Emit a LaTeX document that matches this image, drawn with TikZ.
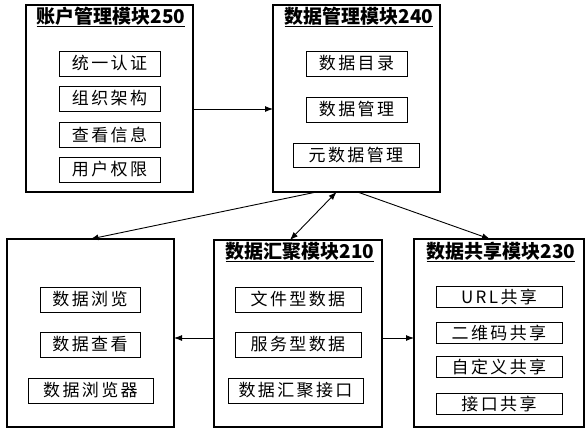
\documentclass[tikz,border=0pt]{standalone}
\usepackage{fontspec}
\usetikzlibrary{arrows.meta}
\setmainfont{Noto Sans CJK SC}
\newfontfamily\subfont[LetterSpace=14]{Noto Sans CJK SC}
\begin{document}
\begin{tikzpicture}[x=1pt, y=-1pt, line join=miter, >={Latex[length=8pt, width=6pt]},
        every node/.style={outer sep=0pt, inner sep=0pt},
        mod/.style={draw, line width=1.1pt, anchor=north west},
        title/.style={font=\fontsize{19}{19}\selectfont\bfseries},
        item/.style={draw, line width=1pt, minimum height=25pt, font=\fontsize{17}{17}\subfont},
        link/.style={line width=0.9pt}]
        \useasboundingbox (0, 0) rectangle (587, 431);
        % modules
        \node[mod, minimum width=167pt, minimum height=187pt] (acct) at (26, 5) {};
        \node[mod, minimum width=167pt, minimum height=187pt] (mgmt) at (273, 5) {};
        \node[mod, minimum width=167pt, minimum height=188pt] (view) at (7, 239) {};
        \node[mod, minimum width=168pt, minimum height=187pt] (agg) at (214, 240) {};
        \node[mod, minimum width=170pt, minimum height=188pt] (share) at (414, 239) {};
        % titles
        \node[title] (acctT) at (111, 17) {\underline{账户管理模块250}};
        \node[title] (mgmtT) at (359, 17) {\underline{数据管理模块240}};
        \node[title] (aggT) at (300, 252) {\underline{数据汇聚模块210}};
        \node[title] (shareT) at (501, 252) {\underline{数据共享模块230}};
        % account
        \node[item, minimum width=101pt] (auth) at (109.5, 63.5) {统一认证};
        \node[item, minimum width=101pt] (org) at (109.5, 98.5) {组织架构};
        \node[item, minimum width=101pt] (info) at (109.5, 134.5) {查看信息};
        \node[item, minimum width=101pt] (perm) at (109.5, 169.5) {用户权限};
        % data management
        \node[item, minimum width=101pt] (cat) at (356.5, 63.5) {数据目录};
        \node[item, minimum width=101pt] (dm) at (356.5, 109.5) {数据管理};
        \node[item, minimum width=126pt, minimum height=24pt] (meta) at (356, 155) {元数据管理};
        % view
        \node[item, minimum width=100pt] (browse) at (90, 299.5) {数据浏览};
        \node[item, minimum width=100pt] (look) at (90, 344.5) {数据查看};
        \node[item, minimum width=125pt] (browser) at (90.5, 390.5) {数据浏览器};
        % aggregation
        \node[item, minimum width=126pt] (file) at (298, 299.5) {文件型数据};
        \node[item, minimum width=126pt] (svc) at (298, 344.5) {服务型数据};
        \node[item, minimum width=135pt] (api) at (295.5, 390.5) {数据汇聚接口};
        % sharing
        \node[item, minimum width=126pt, minimum height=21pt] (url) at (499, 296.5) {URL共享};
        \node[item, minimum width=126pt, minimum height=21pt] (qr) at (499, 333) {二维码共享};
        \node[item, minimum width=126pt, minimum height=21pt] (custom) at (499, 367) {自定义共享};
        \node[item, minimum width=126pt, minimum height=21pt] (port) at (499, 404) {接口共享};
        % links
        \draw[link, ->] ([yshift=-10.5pt]acct.east) -- ([yshift=-10.5pt]mgmt.west);
        \draw[link, ->] ([xshift=-40pt]mgmt.south) -- (view.north);
        \draw[link, <->] ([xshift=-20pt]mgmt.south) -- ([xshift=-8pt]agg.north);
        \draw[link, ->] ([xshift=1pt]mgmt.south) -- ([xshift=-9pt]share.north);
        \draw[link, ->] ([yshift=-4.5pt]agg.west) -- ([yshift=-5pt]view.east);
        \draw[link, ->] ([yshift=-4.5pt]agg.east) -- ([yshift=-5pt]share.west);
    \end{tikzpicture}
\end{document}
